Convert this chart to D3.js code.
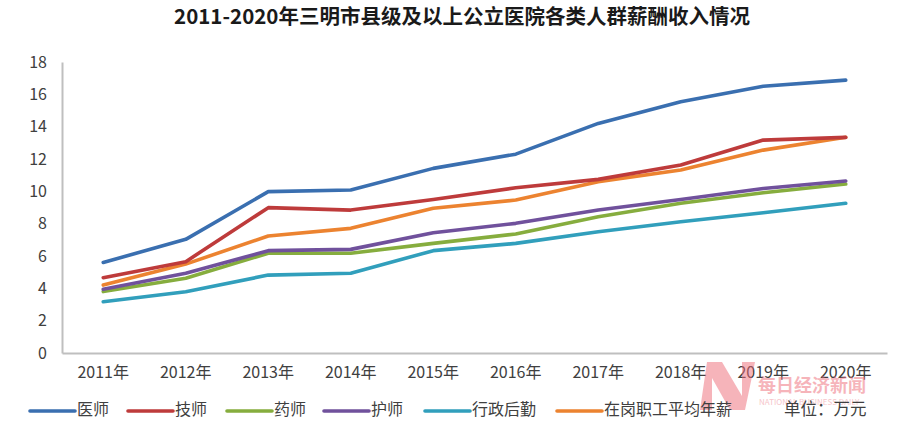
<!DOCTYPE html>
<html>
<head>
<meta charset="utf-8">
<script src="https://cdn.jsdelivr.net/npm/d3@7"></script>
<style>
  body { margin: 0; background: #fff; }
  svg text { font-family: "Noto Sans CJK SC", "Liberation Sans", sans-serif; }
  .tick text { fill: #404040; }
</style>
</head>
<body>
<div id="chart"></div>
<script>
  'use strict';

  const years = ["2011年", "2012年", "2013年", "2014年", "2015年",
                 "2016年", "2017年", "2018年", "2019年", "2020年"];
  const yTicks = [0, 2, 4, 6, 8, 10, 12, 14, 16, 18];

  // 万元
  const doctor  = [5.6, 7.03, 9.98, 10.08, 11.42, 12.3, 14.2, 15.54, 16.5, 16.88];
  const tech    = [4.66, 5.65, 8.99, 8.84, 9.5, 10.22, 10.74, 11.63, 13.17, 13.34];
  const pharm   = [3.8, 4.62, 6.17, 6.17, 6.78, 7.36, 8.43, 9.26, 9.91, 10.45];
  const nurse   = [3.94, 4.93, 6.33, 6.41, 7.44, 8.02, 8.84, 9.5, 10.18, 10.64];
  const admin   = [3.17, 3.79, 4.82, 4.93, 6.33, 6.78, 7.5, 8.12, 8.68, 9.26];
  const average = [4.2, 5.5, 7.24, 7.71, 8.95, 9.46, 10.6, 11.32, 12.55, 13.34];

  const series = [
    { name: "医师", values: doctor, color: "#3a6fb0" },
    { name: "技师", values: tech, color: "#be3b3b" },
    { name: "药师", values: pharm, color: "#86ad3e" },
    { name: "护师", values: nurse, color: "#70519c" },
    { name: "行政后勤", values: admin, color: "#319fbc" },
    { name: "在岗职工平均年薪", values: average, color: "#ec8330" }
  ];
  // draw order: last drawn on top
  const drawOrder = [4, 2, 3, 5, 1, 0];

  const size = { width: 914, height: 439 };
  const margin = { top: 62, right: 27, bottom: 86, left: 62 };
  const width = size.width - margin.left - margin.right;
  const height = size.height - margin.top - margin.bottom;

  const svg = d3.select("#chart").append("svg")
    .attr("width", size.width)
    .attr("height", size.height);

  svg.append("text")
    .attr("x", 462)
    .attr("y", 18)
    .attr("text-anchor", "middle")
    .attr("dominant-baseline", "middle")
    .style("font-size", "20.5px")
    .style("font-weight", "bold")
    .style("fill", "#1a1a1a")
    .text("2011-2020年三明市县级及以上公立医院各类人群薪酬收入情况");

  const graph = svg.append("g")
    .attr("transform", "translate(" + margin.left + "," + margin.top + ")");

  const xScale = d3.scaleBand().domain(years).range([0, width]);
  const yScale = d3.scaleLinear().domain([0, 18]).range([height, 0]);

  const xAxis = d3.axisBottom(xScale).tickSize(0).tickPadding(14);
  const yAxis = d3.axisLeft(yScale).tickValues(yTicks).tickSize(0).tickPadding(15);

  const gx = graph.append("g")
    .attr("transform", "translate(0," + height + ")")
    .call(xAxis);
  gx.select(".domain").attr("stroke", "#bfbfbf").attr("stroke-width", 2);
  gx.selectAll(".tick text").style("font-size", "16px");

  const gy = graph.append("g").call(yAxis);
  gy.select(".domain").attr("stroke", "#bfbfbf").attr("stroke-width", 2);
  gy.selectAll(".tick text").style("font-size", "16px");

  // watermark
  const wm = svg.append("g").attr("opacity", 0.5);
  wm.append("path")
    .attr("d", "M707,362 L722,362 L742,396 L742,362 L755,362 L745,410 L730,410 L712,378 L712,410 L700,410 Z")
    .attr("fill", "#ef6b78");
  wm.append("text")
    .attr("x", 758).attr("y", 392)
    .style("font-size", "18px").style("font-weight", "bold")
    .style("fill", "#ef6b78")
    .text("每日经济新闻");
  wm.append("text")
    .attr("x", 759).attr("y", 405)
    .style("font-size", "8px")
    .style("fill", "#ef8c95")
    .text("NATIONAL BUSINESS DAILY");

  const line = d3.line()
    .x((d, i) => xScale(years[i]) + xScale.bandwidth() / 2)
    .y(d => yScale(d));

  drawOrder.forEach(k => {
    graph.append("path")
      .datum(series[k].values)
      .attr("fill", "none")
      .attr("stroke", series[k].color)
      .attr("stroke-width", 3.6)
      .attr("stroke-linejoin", "round")
      .attr("stroke-linecap", "round")
      .attr("d", line);
  });

  // legend
  const legendX = [30, 128, 227, 324, 425, 557];
  const legendY = 411;
  const legend = svg.append("g");
  series.forEach((s, i) => {
    const g = legend.append("g").attr("transform", "translate(" + legendX[i] + "," + legendY + ")");
    g.append("line")
      .attr("x1", 0).attr("x2", 45)
      .attr("stroke", s.color)
      .attr("stroke-width", 3.6)
      .attr("stroke-linecap", "round");
    g.append("text")
      .attr("x", 47)
      .attr("dominant-baseline", "middle")
      .style("font-size", "16px")
      .style("fill", "#404040")
      .text(s.name);
  });
  legend.append("text")
    .attr("x", 784).attr("y", legendY)
    .attr("dominant-baseline", "middle")
    .style("font-size", "16.5px")
    .style("fill", "#404040")
    .text("单位：万元");
</script>
</body>
</html>
